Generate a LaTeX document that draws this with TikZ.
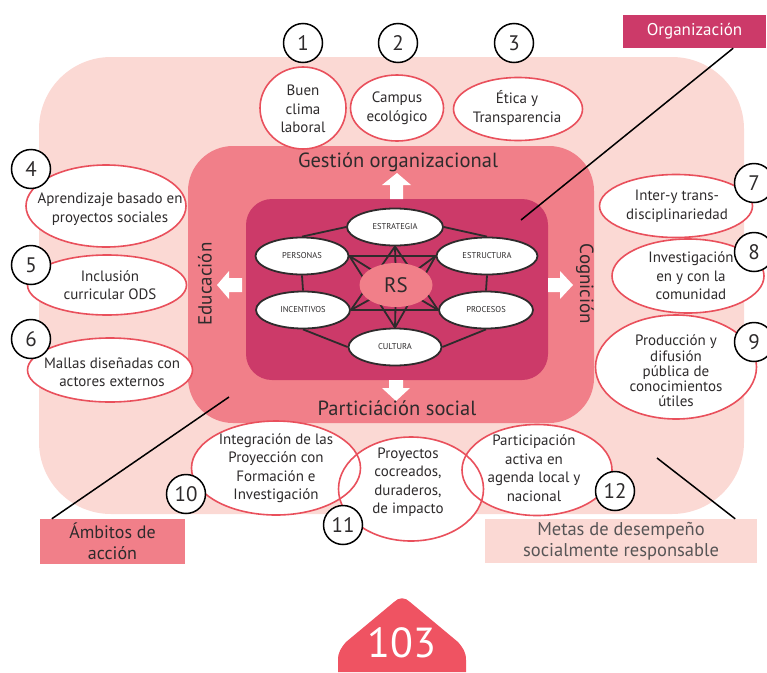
\documentclass[tikz,border=0pt]{standalone}
\usepackage{fontspec}
\setmainfont{PT Sans}
\usetikzlibrary{shapes.geometric}
\definecolor{lightpk}{HTML}{FBD9D4}
\definecolor{midpk}{HTML}{F17F89}
\definecolor{darkpk}{HTML}{CC3A69}
\definecolor{redln}{HTML}{E9505C}
\definecolor{txt}{HTML}{2E2B2C}
\definecolor{graytxt}{HTML}{575556}
\definecolor{pagepk}{HTML}{EF5362}
\pgfdeclarelayer{back}
\pgfdeclarelayer{mid}
\pgfsetlayers{back,mid,main}
\begin{document}
\begin{tikzpicture}[x=1pt,y=-1pt,
  goalfill/.style={ellipse, fill=white, draw=none, inner sep=0pt},
  goal/.style={ellipse, draw=redln, line width=1.6pt, inner sep=0pt},
  goaltxt/.style={align=center, font=\fontsize{15}{18.5}\selectfont, text=txt, inner sep=0pt},
  num/.style={circle, draw=black, line width=1.5pt, fill=white, minimum size=39pt, inner sep=0pt, font=\fontsize{21}{21}\selectfont, text=txt},
  core/.style={ellipse, draw=txt, line width=1.8pt, fill=white, inner sep=0pt, minimum height=37pt, font=\fontsize{8.5}{9}\selectfont, text=txt},
  rsnode/.style={ellipse, fill=midpk, inner sep=0pt, minimum width=73pt, minimum height=44pt, font=\fontsize{21}{21}\selectfont, text=txt},
  link/.style={draw=txt, line width=1.8pt},
  conn/.style={draw=black, line width=1.5pt},
  axis/.style={font=\fontsize{20.5}{20.5}\selectfont, text=txt, inner sep=0pt},
  side/.style={font=\fontsize{19}{19}\selectfont, text=txt, inner sep=0pt},
  tag/.style={inner sep=0pt, align=center}
]
\useasboundingbox (0,0) rectangle (767,672);
\begin{pgfonlayer}{back}
  \fill[lightpk, rounded corners=72pt] (39,57) rectangle (744,514);
  \fill[midpk, rounded corners=45pt] (188,146) rectangle (594,423);
  \fill[darkpk, rounded corners=26pt] (246,199) rectangle (548,380);
\end{pgfonlayer}

% white block arrows
\fill[white] (390,199) -- (390,185) -- (382,185) -- (397,173) -- (411,185) -- (403,185) -- (403,199) -- cycle;
\fill[white] (389,380) -- (389,388) -- (382,388) -- (396,401) -- (410,388) -- (403,388) -- (403,380) -- cycle;
\fill[white] (242,278) -- (229,278) -- (229,271) -- (217,285) -- (229,299) -- (229,292) -- (242,292) -- cycle;
\fill[white] (548,278) -- (560,278) -- (560,271) -- (573,285) -- (560,299) -- (560,292) -- (548,292) -- cycle;

% axis labels
\node[axis] (gest) at (398,162) {Gestión organizacional};
\node[axis] (part) at (397,408) {Particiáción social};
\node[side, rotate=90] (edu) at (205,284) {Educación};
\node[side, rotate=-90] (cog) at (585,284) {Cognición};

% core nodes
\node[core, minimum width=96pt] (estr) at (395,227) {ESTRATEGIA};
\node[core, minimum width=93pt] (pers) at (302,256) {PERSONAS};
\node[core, minimum width=101pt] (estru) at (487,256) {ESTRUCTURA};
\node[core, minimum width=94pt] (ince) at (303,310) {INCENTIVOS};
\node[core, minimum width=94pt] (proc) at (486,310) {PROCESOS};
\node[core, minimum width=93pt] (cult) at (395,347) {CULTURA};
\node[rsnode] (rs) at (396,285) {RS};
\begin{pgfonlayer}{mid}
  \draw[link] (estr.west) -- (pers.north);
  \draw[link] (estr.east) -- (estru.north);
  \draw[link] (pers.south) -- (ince.north);
  \draw[link] (estru.south) -- (proc.north);
  \draw[link] (ince.south) -- (cult.west);
  \draw[link] (proc.south) -- (cult.east);
  \draw[link] (estr.south) -- (ince.east);
  \draw[link] (estr.south) -- (proc.west);
  \draw[link] (ince.east) -- (proc.west);
  \draw[link] (cult.north) -- (pers.east);
  \draw[link] (cult.north) -- (estru.west);
  \draw[link] (pers.east) -- (estru.west);
  \draw[link] (estr.south) -- (rs.center);
  \draw[link] (cult.north) -- (rs.center);
  \draw[link] (pers.east) -- (rs.center);
  \draw[link] (estru.west) -- (rs.center);
  \draw[link] (ince.east) -- (rs.center);
  \draw[link] (proc.west) -- (rs.center);
\end{pgfonlayer}

% goal ellipses: fills then borders
\foreach \n/\x/\y/\w/\h in {1/303/108/86/82, 2/397/108/93/66, 3/518/109/129/63,
  4/106/206/160/82, 5/107/285/159/60, 6/110/370/165/64,
  7/676/206/153/63, 8/688/276/152/74, 9/676/367/161/104,
  10/276/468/169/94, 11/411/489/145/104, 12/537/470/150/91}
  \node[goalfill, minimum width=\w pt, minimum height=\h pt] (gf\n) at (\x,\y) {};
\foreach \n/\x/\y/\w/\h in {1/303/108/86/82, 2/397/108/93/66, 3/518/109/129/63,
  4/106/206/160/82, 5/107/285/159/60, 6/110/370/165/64,
  7/676/206/153/63, 8/688/276/152/74, 9/676/367/161/104,
  10/276/468/169/94, 11/411/489/145/104, 12/537/470/150/91}
  \node[goal, minimum width=\w pt, minimum height=\h pt] (g\n) at (\x,\y) {};

\node[goaltxt] (t1) at (303,109) {Buen\\clima\\laboral};
\node[goaltxt] (t2) at (397,108) {Campus\\ecológico};
\node[goaltxt] (t3) at (517,108) {Ética y\\Transparencia};
\node[goaltxt] (t4) at (110,209) {Aprendizaje basado en\\proyectos sociales};
\node[goaltxt] (t5) at (110,285) {Inclusión\\curricular ODS};
\node[goaltxt] (t6) at (112,372) {Mallas diseñadas con\\actores externos};
\node[goaltxt] (t7) at (677,206) {Inter-y trans-\\disciplinariedad};
\node[goaltxt] (t8) at (691,276) {Investigación\\en y con la\\comunidad};
\node[goaltxt, font=\fontsize{15}{15.3}\selectfont] (t9) at (676,371) {Producción y\\difusión\\pública de\\conocimientos\\útiles};
\node[goaltxt] (t10) at (276,468) {Integración de las\\Proyección con\\Formación e\\Investigación};
\node[goaltxt] (t11) at (408,482) {Proyectos\\cocreados,\\duraderos,\\de impacto};
\node[goaltxt] (t12) at (534,468) {Participación\\activa en\\agenda local y\\nacional};

% number circles
\foreach \n/\x/\y in {1/303/43, 2/398/43, 3/514/43, 4/31/169, 5/31/265, 6/31/339,
  7/754/183, 8/754/252, 9/754/342, 10/186/494, 11/343/525, 12/615/491}
  \node[num] (n\n) at (\x,\y) {\n};

% legend boxes
\node[tag, fill=darkpk, minimum width=143pt, minimum height=33pt, text=white, font=\fontsize{17}{17}\selectfont] (org) at (694.5,31.5) {Organización};
\node[tag, fill=midpk, minimum width=145pt, minimum height=45pt, text=txt, font=\fontsize{18}{20.5}\selectfont] (amb) at (112.5,541.5) {Ámbitos de\\acción};
\node[tag, fill=lightpk, minimum width=272pt, minimum height=44pt, text=graytxt, font=\fontsize{18.5}{21}\selectfont] (meta) at (621,541) {Metas de desempeño\\socialmente responsable};

\coordinate (orgend) at (521,220);
\coordinate (ambend) at (229,397);
\coordinate (metaend) at (657,458);
\draw[conn] ([xshift=-33pt]org.south east) -- (orgend);
\draw[conn] ([xshift=12pt]amb.north west) -- (ambend);
\draw[conn] ([xshift=-22pt]meta.north east) -- (metaend);

% page number
\fill[pagepk] (338,672) -- (338,660) .. controls (338,652) and (341,648) .. (346,642) -- (394,602) .. controls (399,597) and (405,597) .. (410,602) -- (458,642) .. controls (463,648) and (466,652) .. (466,660) -- (466,672) -- cycle;
\node[inner sep=0pt, text=white, font=\fontsize{42}{42}\selectfont] (page) at (402,643) {103};
\end{tikzpicture}
\end{document}
